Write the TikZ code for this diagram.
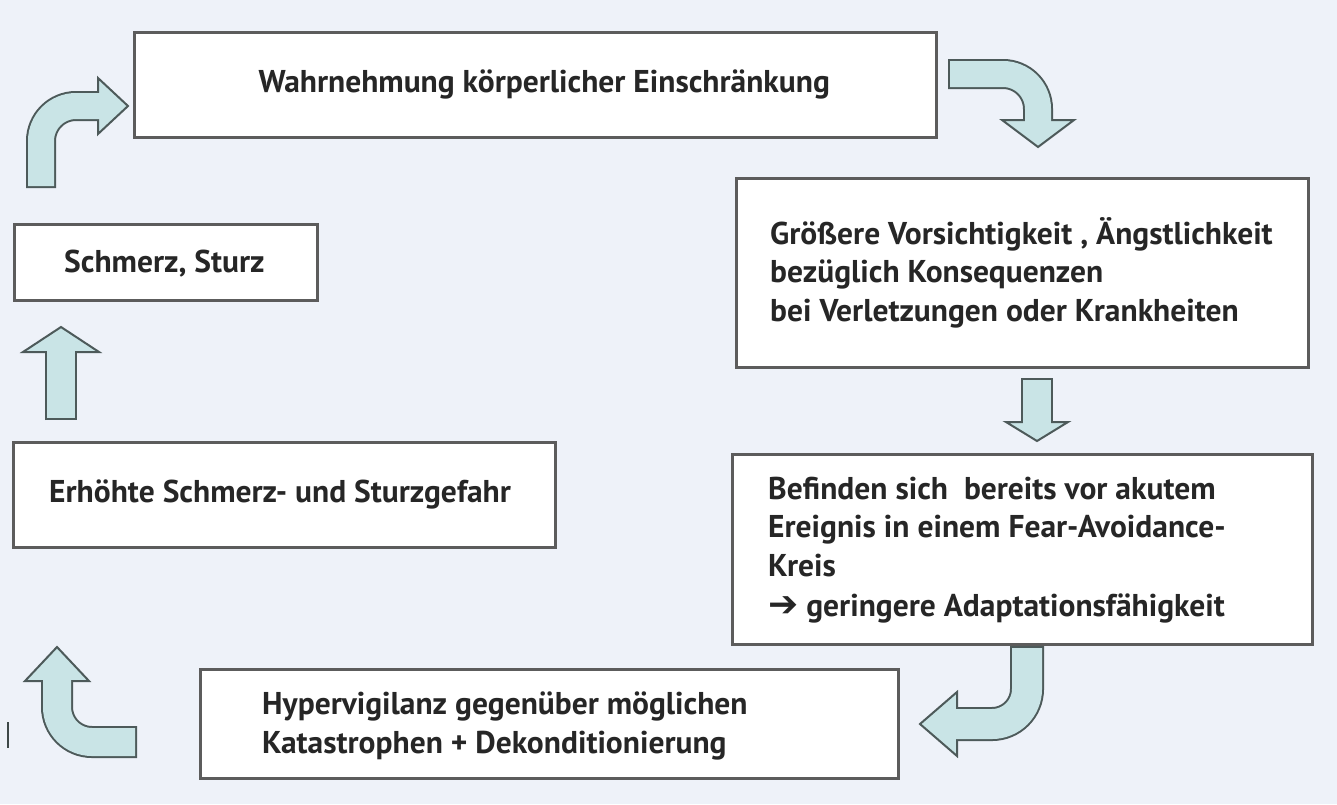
\documentclass[tikz,border=0pt]{standalone}
\usepackage{fontspec}
\setmainfont{PT Sans}
\newfontfamily\symf{DejaVu Sans}
\definecolor{bg}{HTML}{EEF2F9}
\definecolor{arrf}{HTML}{C9E4E6}
\definecolor{arrd}{HTML}{4D5A5A}
\definecolor{boxc}{HTML}{5C5C5C}
\definecolor{txt}{HTML}{262626}
\begin{document}
\begin{tikzpicture}[x=1pt,y=-1pt,
  box/.style={draw=boxc, line width=2.5pt, fill=white, anchor=north west,
    inner sep=0pt},
  lbl/.style={text=txt, font=\fontsize{31.5}{38.5}\selectfont\bfseries,
    anchor=west, inner sep=0pt, align=left},
  so/.style={draw=arrd, line width=#1},
  si/.style={draw=arrf, line width=#1-4pt},
  head/.style={fill=arrf, draw=arrd, line width=2pt, line join=miter}]
\fill[bg] (0,0) rectangle (1337,804);
\useasboundingbox (0,0) rectangle (1337,804);
\draw[arrd!80!black, line width=2pt] (8,722) -- (8,748);

% boxes
\node[box, minimum width=802pt, minimum height=105pt] (top) at (133,31) {};
\node[box, minimum width=572pt, minimum height=189pt] (r1) at (735,177) {};
\node[box, minimum width=580pt, minimum height=190pt] (r2) at (731,453) {};
\node[box, minimum width=698pt, minimum height=109pt] (bot) at (199,668) {};
\node[box, minimum width=542pt, minimum height=105pt] (erh) at (12,441) {};
\node[box, minimum width=303pt, minimum height=76pt] (sch) at (13,223) {};

% texts
\node[lbl, anchor=center] (ttop) at ([xshift=9pt]top.center)
  {Wahrnehmung körperlicher Einschränkung};
\node[lbl] (tr1) at ([xshift=35pt]r1.west)
  {Größere Vorsichtigkeit , Ängstlichkeit\\bezüglich Konsequenzen\\bei Verletzungen oder Krankheiten};
\node[lbl] (tr2) at ([xshift=37pt,yshift=-1pt]r2.west)
  {Befinden sich\ \ bereits vor akutem\\Ereignis in einem Fear-Avoidance-\\Kreis\\[2pt]{\symf\bfseries\fontsize{36}{38.5}\selectfont ➔} geringere Adaptationsfähigkeit};
\node[lbl] (tbot) at ([xshift=63pt,yshift=-2pt]bot.west)
  {Hypervigilanz gegenüber möglichen\\Katastrophen + Dekonditionierung};
\node[lbl] (terh) at ([xshift=37pt]erh.west)
  {Erhöhte Schmerz- und Sturzgefahr};
\node[lbl] (tsch) at ([xshift=51pt,yshift=-1pt]sch.west)
  {Schmerz, Sturz};

% arrow 1 (up then right)
\draw[so=30pt, rounded corners=35pt] (41,188) -- (41,106) -- (98,106);
\filldraw[head] (98,78) -- (128,106) -- (98,134) -- cycle;
\draw[si=30pt, rounded corners=35pt] (41,186) -- (41,106) -- (101,106);

% arrow 2 (right then down)
\draw[so=30pt, rounded corners=35pt] (948,74) -- (1038,74) -- (1038,120);
\filldraw[head] (1002,120) -- (1038,147) -- (1074,120) -- cycle;
\draw[si=30pt, rounded corners=35pt] (950,74) -- (1038,74) -- (1038,123);

% arrow 3 (down)
\draw[so=32pt] (1037,378) -- (1037,422);
\filldraw[head] (1006,422) -- (1037,441) -- (1068,422) -- cycle;
\draw[si=32pt] (1037,380) -- (1037,425);

% arrow 4 (down then left)
\draw[so=34pt, rounded corners=35pt] (1027,646) -- (1027,724) -- (957,724);
\filldraw[head] (957,692) -- (920,724) -- (957,756) -- cycle;
\draw[si=34pt, rounded corners=35pt] (1027,648) -- (1027,724) -- (954,724);

% arrow 5 (left then up)
\draw[so=32pt, rounded corners=35pt] (137,742) -- (57,742) -- (57,681);
\filldraw[head] (25,681) -- (57,647) -- (89,681) -- cycle;
\draw[si=32pt, rounded corners=35pt] (135,742) -- (57,742) -- (57,678);

% arrow 6 (up)
\draw[so=32pt] (61,420) -- (61,352);
\filldraw[head] (23,352) -- (61,327) -- (99,352) -- cycle;
\draw[si=32pt] (61,418) -- (61,349);
\end{tikzpicture}
\end{document}
